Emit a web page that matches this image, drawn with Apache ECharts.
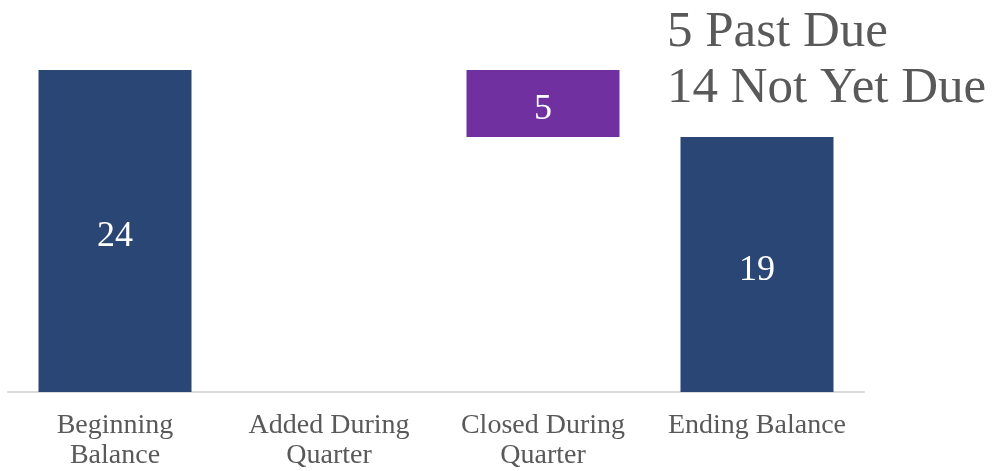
<!DOCTYPE html>
<html><head><meta charset="utf-8">
<script src="https://cdn.jsdelivr.net/npm/echarts@6/dist/echarts.min.js"></script>
<style>html,body{margin:0;padding:0;background:#fff}#c{width:992px;height:471px}</style>
</head><body><div id="c"></div>
<script>
const categories = ['Beginning\nBalance', 'Added During\nQuarter', 'Closed During\nQuarter', 'Ending Balance'];
const baseValues = [0, 0, 19, 0];
const barValues = [24, 0, 5, 19];
const barColors = ['#2A4675', '#2A4675', '#7030A0', '#2A4675'];
const noteLines = ['5 Past Due', '14 Not Yet Due'];

const FONT = 'Liberation Serif';
const chart = echarts.init(document.getElementById('c'));
chart.setOption({
  animation: false,
  grid: { left: 8, right: 128, top: 70, bottom: 79, containLabel: false },
  xAxis: {
    type: 'category', data: categories,
    axisLine: { show: true, lineStyle: { color: '#D9D9D9', width: 2 } },
    axisTick: { show: false },
    axisLabel: { color: '#595959', fontFamily: FONT, fontSize: 28, lineHeight: 30, margin: 19, interval: 0 }
  },
  yAxis: { type: 'value', min: 0, max: 24, show: false, splitLine: { show: false } },
  series: [
    { type: 'bar', stack: 'w', data: baseValues, itemStyle: { color: 'transparent' }, barWidth: '71.5%', silent: true },
    { type: 'bar', stack: 'w', data: barValues.map((v, i) => ({ value: v, itemStyle: { color: barColors[i] } })),
      barWidth: '71.5%',
      label: { show: true, position: 'inside', offset: [0, 6], color: '#fff', fontFamily: FONT, fontSize: 36,
        formatter: p => p.value ? String(p.value) : '' } }
  ],
  graphic: [{
    type: 'text', left: 667, top: 5,
    style: { text: noteLines.join('\n'), fill: '#595959', font: '51px "Liberation Serif"', lineHeight: 56 }
  }]
});
</script></body></html>
